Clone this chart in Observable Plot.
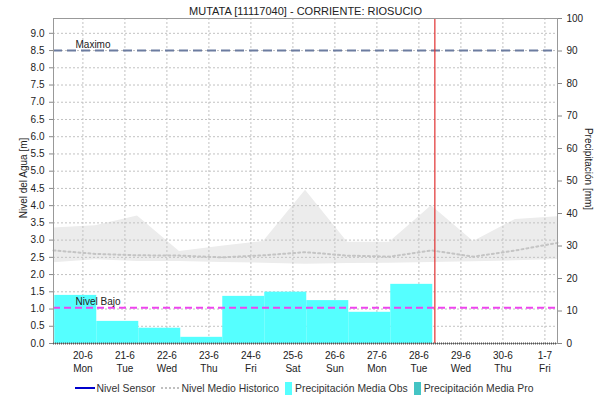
<!DOCTYPE html>
<html><head><meta charset="utf-8">
<script src="https://cdn.jsdelivr.net/npm/d3@7"></script>
<script src="https://cdn.jsdelivr.net/npm/@observablehq/plot@0.6"></script>
<style>
body{margin:0;background:#fff;font-family:"Liberation Sans",Arial,sans-serif;}
#chart{width:608px;height:375px;}
#legend{height:26px;display:flex;justify-content:center;align-items:center;font-size:10.4px;color:#333;}
#legend .item{display:flex;align-items:center;margin:0 3px;}
#legend .ln{width:20px;height:0;border-top:2px solid #0000cc;margin-right:2px;}
#legend .dt{width:18px;height:0;border-top:2px dotted #c0c0c0;margin-right:2px;}
#legend .sq{width:7px;height:13px;margin-right:3px;}
</style></head><body>
<div id="chart"></div>
<div id="legend">
  <span class="item"><span class="ln"></span>Nivel Sensor</span>
  <span class="item"><span class="dt"></span>Nivel Medio Historico</span>
  <span class="item"><span class="sq" style="background:#55ffff"></span>Precipitación Media Obs</span>
  <span class="item"><span class="sq" style="background:#44c4c4"></span>Precipitación Media Pro</span>
</div>
<script>
const chartTitle = "MUTATA [11117040] - CORRIENTE: RIOSUCIO";
const dayLabels = ["20-6","21-6","22-6","23-6","24-6","25-6","26-6","27-6","28-6","29-6","30-6","1-7"];
const weekdayLabels = ["Mon","Tue","Wed","Thu","Fri","Sat","Sun","Mon","Tue","Wed","Thu","Fri"];
const precipObsMm = [14.8, 6.8, 4.7, 1.9, 14.5, 15.8, 13.2, 9.6, 18.2];
const histMax  = [3.35, 3.42, 3.70, 2.67, 2.82, 2.96, 4.45, 2.94, 2.94, 4.00, 2.96, 3.60, 3.68];
const histMin  = [2.34, 2.43, 2.38, 2.38, 2.35, 2.33, 2.30, 2.32, 2.33, 2.35, 2.37, 2.40, 2.44];
const histMean = [2.70, 2.60, 2.56, 2.55, 2.50, 2.56, 2.65, 2.55, 2.52, 2.70, 2.52, 2.70, 2.92];
const leftTicks = d3.range(0, 9.01, 0.5);
const rightTicksMm = d3.range(0, 101, 10);
const maximoLevel = 8.5;
const bajoLevel = 1.04;
const nowDay = 8.38;
const levelTop = 9.43, mmTop = 100;
const k = levelTop / mmTop;

const bars = precipObsMm.map((v, i) => ({x1: Math.max(-0.7, i - 0.67), x2: i + 0.33, y: v * k}));
const hist = histMax.map((v, j) => ({x: j - 0.7, max: v, min: histMin[j], mean: histMean[j]}));

const plot = Plot.plot({
  width: 608, height: 375,
  marginTop: 18, marginBottom: 32, marginLeft: 53, marginRight: 51,
  style: {fontFamily: "Liberation Sans, Arial, sans-serif", fontSize: "10px", color: "#333", background: "#fff"},
  x: {domain: [-0.7, 11.3]},
  y: {domain: [0, levelTop]},
  marks: [
    Plot.areaY(hist, {x: "x", y1: "min", y2: "max", fill: "#ececec"}),
    Plot.ruleY(leftTicks.slice(1), {stroke: "#c2c2c2", strokeDasharray: "2,2"}),
    Plot.ruleX(d3.range(0, dayLabels.length), {stroke: "#c2c2c2", strokeDasharray: "2,2"}),
    Plot.lineY(hist, {x: "x", y: "mean", stroke: "#c4c4c4", strokeWidth: 2, strokeDasharray: "2,3"}),
    Plot.rectY(bars, {x1: "x1", x2: "x2", y: "y", fill: "#55ffff"}),
    Plot.ruleY([maximoLevel], {stroke: "#6c7ca0", strokeWidth: 2, strokeDasharray: "9,5"}),
    Plot.ruleY([bajoLevel], {stroke: "#ee44ee", strokeWidth: 2, strokeDasharray: "7,4"}),
    Plot.text([{t: "Maximo", y: maximoLevel}, {t: "Nivel Bajo", y: bajoLevel}],
      {text: "t", y: "y", frameAnchor: "left", dx: 22, dy: -6, textAnchor: "start", fill: "#222", fontSize: 10}),
    Plot.ruleX([nowDay], {stroke: "#e03030", strokeWidth: 1.2}),
    Plot.frame({stroke: "#999"}),
    Plot.ruleY([0], {stroke: "#555", strokeWidth: 2, strokeDasharray: "1,1"}),
    Plot.axisX(d3.range(0, dayLabels.length), {
      tickFormat: i => dayLabels[i] + "\n" + weekdayLabels[i],
      tickSize: 0, tickPadding: 6, label: null, lineHeight: 1.3, fill: "#222"
    }),
    Plot.axisY(leftTicks, {anchor: "left", tickFormat: d => d.toFixed(1), tickSize: 4, stroke: "#888", label: null, fill: "#222"}),
    Plot.axisY(rightTicksMm.map(v => v * k), {anchor: "right", tickFormat: d => Math.round(d / k), tickSize: 4, stroke: "#888", label: null, fill: "#222"}),
    Plot.text(["Nivel del Agua [m]"], {frameAnchor: "left", textAnchor: "middle", dx: -30, dy: -3, rotate: -90, fontSize: 10, fill: "#222"}),
    Plot.text(["Precipitación [mm]"], {frameAnchor: "right", textAnchor: "middle", dx: 31, dy: -12, rotate: 90, fontSize: 10, fill: "#222"}),
    Plot.text([chartTitle], {frameAnchor: "top", dy: -11, fontSize: 11, fill: "#222"})
  ]
});
document.getElementById("chart").appendChild(plot);
</script>
</body></html>
